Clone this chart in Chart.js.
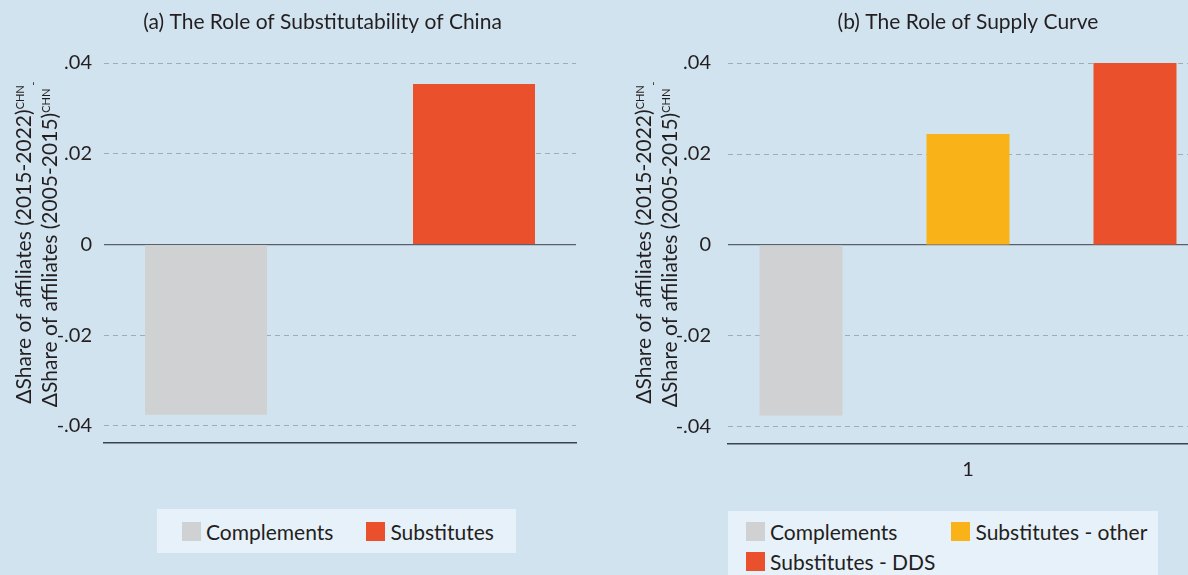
<!DOCTYPE html>
<html>
<head>
<meta charset="utf-8">
<title>Role of substitutability and supply curve</title>
<script src="https://cdn.jsdelivr.net/npm/chart.js@4.4.1/dist/chart.umd.min.js"></script>
<style>
    html, body { margin: 0; padding: 0; }
    body {
        width: 1188px; height: 575px; overflow: hidden; position: relative;
        background: #d2e3f0; font-family: Lato, "Open Sans", sans-serif; color: #231f20;
    }
    canvas { position: absolute; top: 0; }
    #chartA { left: 0; }
    #chartB { left: 620px; }

    .legend {
        position: absolute; box-sizing: border-box; background: #e7f1f9;
        display: grid; grid-template-columns: auto auto; justify-content: start; align-content: start;
        row-gap: 11px; font-size: 21px; line-height: 19px;
    }
    .legend .item { display: flex; align-items: center; height: 19px; white-space: nowrap; }
    .legend .sw { width: 19px; height: 19px; margin-right: 5px; flex: none; }
    #legendA { left: 157px; top: 509px; width: 359px; height: 44px; padding: 13px 0 0 25px; column-gap: 33px; }
    #legendB { left: 728px; top: 511px; width: 430px; height: 80px; padding: 11px 0 0 18px; column-gap: 16px; }
</style>
</head>
<body>
<canvas id="chartA" width="600" height="500"></canvas>
<canvas id="chartB" width="600" height="500"></canvas>
<div id="legendA" class="legend"></div>
<div id="legendB" class="legend"></div>

<script>
// --- data ---
const categories = ['1'];

const seriesA = ['Complements', 'Substitutes'];
const valuesA = [-0.0375, 0.0354];
const colorsA = ['#cfd1d3', '#e9502b'];

const seriesB = ['Complements', 'Substitutes - other', 'Substitutes - DDS'];
const valuesB = [-0.0375, 0.0244, 0.0400];
const colorsB = ['#cfd1d3', '#f9b218', '#e9502b'];

const yTickValues = [-0.04, -0.02, 0, 0.02, 0.04];
const yTickLabels = ['-.04', '-.02', '0', '.02', '.04'];

const titleA = '(a) The Role of Substitutability of China';
const titleB = '(b) The Role of Supply Curve';

const yTitleLine1 = 'ΔShare of affiliates (2015-2022)';
const yTitleLine2 = 'ΔShare of affiliates (2005-2015)';
const yTitleSup = 'CHN';

// --- styling ---
const TXT = '#231f20';
const FONT = 'Lato';
const GRID = '#a3abb2';
const ZERO = '#59606a';
const AXIS = '#3b434c';

// panel heading, centred on a given x
const panelTitlePlugin = {
    id: 'panelTitle',
    afterDraw(chart, args, opts) {
        const ctx = chart.ctx;
        ctx.save();
        ctx.fillStyle = TXT;
        ctx.font = `21px ${FONT}`;
        ctx.textAlign = 'center';
        ctx.textBaseline = 'middle';
        ctx.fillText(opts.text, opts.x, 22.5);
        ctx.restore();
    }
};

// rotated two-line y title with superscripts
const yTitlePlugin = {
    id: 'yTitle',
    afterDraw(chart) {
        const ctx = chart.ctx;
        const lines = [
            { x: 31, parts: [{ t: yTitleLine1, s: 21, r: 0 }, { t: yTitleSup, s: 11, r: 7 }] },
            { x: 57, parts: [{ t: yTitleLine2, s: 21, r: 0 }, { t: yTitleSup, s: 11, r: 7 }, { t: ' -', s: 11, r: 20 }] }
        ];
        ctx.save();
        ctx.fillStyle = TXT;
        ctx.textBaseline = 'alphabetic';
        ctx.textAlign = 'left';
        lines.forEach(line => {
            let total = 0;
            line.parts.forEach(p => {
                ctx.font = `${p.s}px ${FONT}`;
                p.w = ctx.measureText(p.t).width;
                total += p.w;
            });
            ctx.save();
            ctx.translate(line.x, 244.5);
            ctx.rotate(-Math.PI / 2);
            let cur = -total / 2;
            line.parts.forEach(p => {
                ctx.font = `${p.s}px ${FONT}`;
                ctx.fillText(p.t, cur, -p.r);
                cur += p.w;
            });
            ctx.restore();
        });
        ctx.restore();
    }
};

function makeDatasets(names, values, colors) {
    return names.map((n, i) => ({
        label: n,
        data: [values[i]],
        backgroundColor: colors[i],
        borderWidth: 0
    }));
}

function yScale(tickPad, axisWidth) {
    return {
        min: -0.04375,
        max: 0.0415,
        afterBuildTicks: s => { s.ticks = yTickValues.map(v => ({ value: v })); },
        afterFit: s => { s.width = axisWidth; },
        ticks: {
            padding: tickPad,
            color: TXT,
            font: { family: FONT, size: 20 },
            callback: (v, i) => yTickLabels[i]
        },
        grid: {
            drawTicks: false,
            color: c => (c.tick && c.tick.value === 0) ? ZERO : GRID,
            lineWidth: c => (c.tick && c.tick.value === 0) ? 1.2 : 1
        },
        border: {
            display: false,
            dash: c => (c.tick && c.tick.value !== 0) ? [5, 4] : []
        }
    };
}

function buildChart(id, cfg) {
    return new Chart(document.getElementById(id), {
        type: 'bar',
        data: { labels: categories, datasets: makeDatasets(cfg.names, cfg.values, cfg.colors) },
        options: {
            responsive: false,
            animation: false,
            categoryPercentage: cfg.catPct,
            barPercentage: cfg.barPct,
            layout: { padding: { left: 40, right: cfg.padRight, top: 56.2, bottom: cfg.padBottom } },
            plugins: {
                legend: { display: false },
                tooltip: { enabled: false },
                title: { display: false },
                panelTitle: { text: cfg.title, x: cfg.titleX }
            },
            scales: {
                x: {
                    ticks: { display: cfg.xTicks, padding: 14, color: TXT, font: { family: FONT, size: 20 } },
                    grid: { display: false, drawTicks: false },
                    border: { display: true, color: AXIS, width: 1.5 }
                },
                y: yScale(cfg.tickPad, cfg.axisWidth)
            }
        },
        plugins: [yTitlePlugin, panelTitlePlugin]
    });
}

function buildLegend(elId, chart) {
    const box = document.getElementById(elId);
    chart.data.datasets.forEach(ds => {
        const item = document.createElement('div');
        item.className = 'item';
        item.innerHTML = `<span class="sw" style="background:${ds.backgroundColor}"></span><span>${ds.label}</span>`;
        box.appendChild(item);
    });
}

const chartA = buildChart('chartA', {
    names: seriesA, values: valuesA, colors: colorsA, title: titleA, titleX: 322.5,
    catPct: 1.1356, barPct: 0.4552,
    padRight: 24, padBottom: 57, axisWidth: 64, tickPad: 12, xTicks: false
});
const chartB = buildChart('chartB', {
    names: seriesB, values: valuesB, colors: colorsB, title: titleB, titleX: 348,
    catPct: 1.04375, barPct: 0.497,
    padRight: 12, padBottom: 4, axisWidth: 68, tickPad: 17, xTicks: true
});

buildLegend('legendA', chartA);
buildLegend('legendB', chartB);
</script>
</body>
</html>
